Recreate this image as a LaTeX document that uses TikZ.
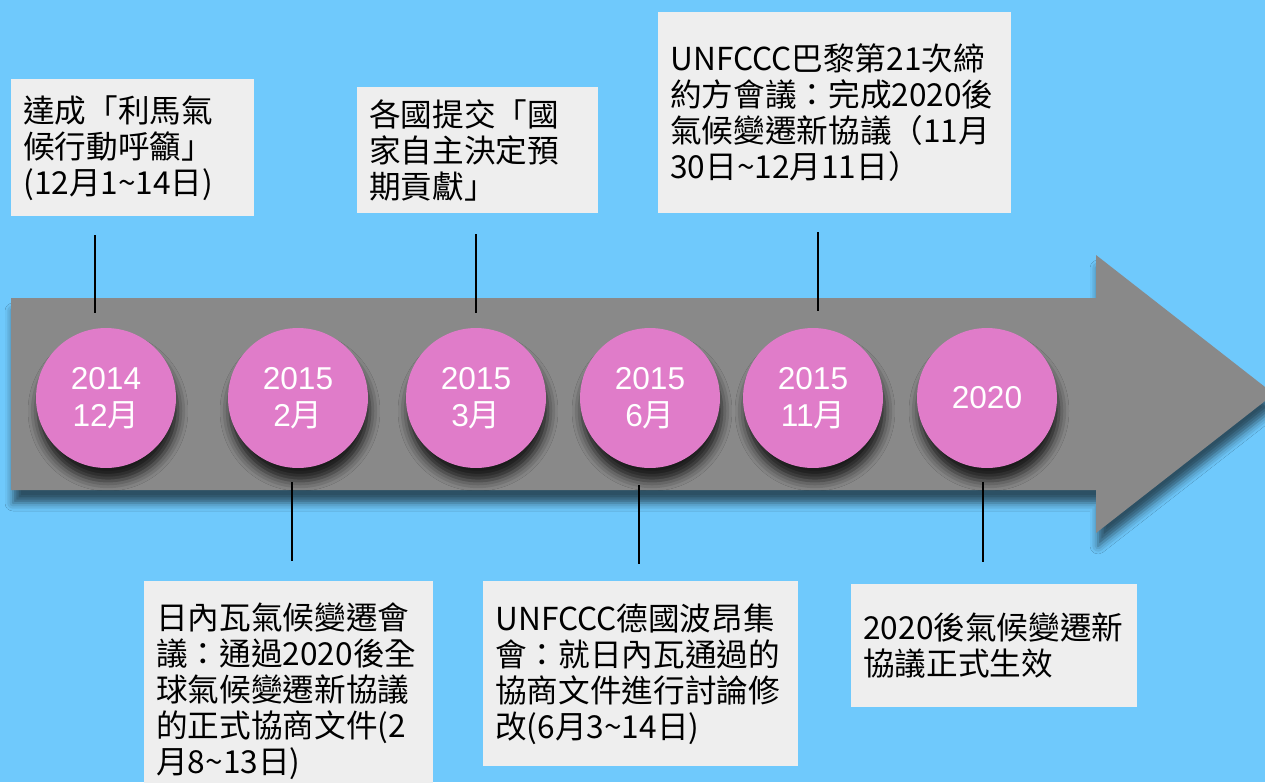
\documentclass[tikz,border=0pt]{standalone}
\usepackage{fontspec}
\setmainfont{Liberation Sans}
\newfontfamily\cjk{Noto Sans CJK TC}
\usepackage{tikz}
\usetikzlibrary{shadows.blur}

\definecolor{skyblue}{HTML}{6FC9FC}
\definecolor{arrowgray}{HTML}{898989}
\definecolor{ballpink}{HTML}{E07CC9}
\definecolor{boxgray}{HTML}{EEEEEE}

\tikzset{
  infobox/.style={fill=boxgray, anchor=north west, align=left, inner xsep=0.24cm, inner ysep=0pt,
    font=\cjk\fontsize{18pt}{20.5pt}\selectfont},
  yearball/.style={circle, fill=ballpink, minimum size=2.8cm, inner sep=0pt, text=white, align=center,
    font=\fontsize{18pt}{21pt}\selectfont,
    blur shadow={shadow xshift=0.04cm, shadow yshift=-0.26cm, shadow blur radius=0.2cm, shadow opacity=80}},
  stemline/.style={black, line width=1.4pt}
}

\begin{document}
\begin{tikzpicture}[x=0.02cm, y=-0.02cm]
            \useasboundingbox (0,0) rectangle (1265,782);
            \clip (0,0) rectangle (1265,782);
            \fill[skyblue] (0,0) rectangle (1265,782);

            % the big arrow
            \fill[arrowgray, blur shadow={shadow xshift=0.04cm, shadow yshift=-0.26cm, shadow blur radius=0.16cm, shadow opacity=60}]
                (11,298) -- (1096,298) -- (1096,255) -- (1274,394) -- (1096,533) -- (1096,490) -- (11,490) -- cycle;

            % dates
            \node[yearball] at (106,398) (d1) {2014\\12{\cjk 月}};
            \node[yearball] at (298,398) (d2) {2015\\2{\cjk 月}};
            \node[yearball] at (476,398) (d3) {2015\\3{\cjk 月}};
            \node[yearball] at (650,398) (d4) {2015\\6{\cjk 月}};
            \node[yearball] at (813,398) (d5) {2015\\11{\cjk 月}};
            \node[yearball] at (987,398) (d6) {2020};

            % events
            \node[infobox, text width=4.38cm, minimum height=2.74cm] at (11,79) (e1)
                {達成「利馬氣\\候行動呼籲」\\(12月1\textasciitilde 14日)};
            \node[infobox, text width=4.34cm, minimum height=2.52cm] at (357,87) (e2)
                {各國提交「國\\家自主決定預\\期貢獻」};
            \node[infobox, text width=6.58cm, minimum height=4.02cm] at (658,12) (e3)
                {UNFCCC巴黎第21次締\\約方會議：完成2020後\\氣候變遷新協議（11月\\30日\textasciitilde 12月11日）};
            \node[infobox, text width=5.30cm, minimum height=4.38cm] at (144,581) (e4)
                {日內瓦氣候變遷會\\議：通過2020後全\\球氣候變遷新協議\\的正式協商文件(2\\月8\textasciitilde 13日)};
            \node[infobox, text width=5.82cm, minimum height=3.70cm] at (483,581) (e5)
                {UNFCCC德國波昂集\\會：就日內瓦通過的\\協商文件進行討論修\\改(6月3\textasciitilde 14日)};
            \node[infobox, text width=5.24cm, minimum height=2.46cm] at (851,584) (e6)
                {2020後氣候變遷新\\協議正式生效\\[0.25cm]};

            % stems
            \coordinate (s1a) at (95,235);  \coordinate (s1b) at (95,313);
            \coordinate (s2a) at (292,482); \coordinate (s2b) at (292,561);
            \coordinate (s3a) at (476,234); \coordinate (s3b) at (476,313);
            \coordinate (s4a) at (639,485); \coordinate (s4b) at (639,564);
            \coordinate (s5a) at (818,232); \coordinate (s5b) at (818,311);
            \coordinate (s6a) at (983,482); \coordinate (s6b) at (983,562);

            \draw[stemline] (s1a) -- (s1b);
            \draw[stemline] (s2a) -- (s2b);
            \draw[stemline] (s3a) -- (s3b);
            \draw[stemline] (s4a) -- (s4b);
            \draw[stemline] (s5a) -- (s5b);
            \draw[stemline] (s6a) -- (s6b);
        \end{tikzpicture}
\end{document}
